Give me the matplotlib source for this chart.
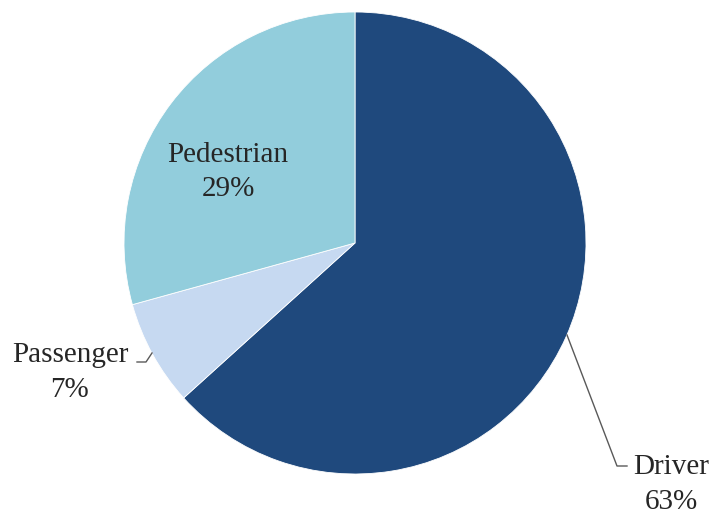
import matplotlib.pyplot as plt

categories = ["Driver", "Passenger", "Pedestrian"]
shares = [63.3, 7.4, 29.3]
colors = ["#1F497D", "#C6D9F1", "#92CDDC"]

W, H = 714, 514

fig = plt.figure(figsize=(W / 100, H / 100), dpi=100)
ax = fig.add_axes([0, 0, 1, 1])

# pie drawn in pixel coordinates (y up)
ax.pie(
    shares,
    colors=colors,
    startangle=90,
    counterclock=False,
    center=(355, H - 243),
    radius=231,
    wedgeprops=dict(edgecolor="white", linewidth=0.6),
)
ax.set_xlim(0, W)
ax.set_ylim(0, H)
ax.set_aspect("equal")
ax.axis("off")

font = dict(family="Liberation Serif", size=21, color="#262626", ha="center", va="baseline")

# label positions (x, baseline of name, baseline of percentage)
label_pos = {
    "Driver": (671, 474, 509),
    "Passenger": (70, 362, 397),
    "Pedestrian": (228, 162, 196),
}
for name, val in zip(categories, shares):
    x, y1, y2 = label_pos[name]
    ax.text(x, H - y1, name, **font)
    ax.text(x, H - y2, f"{val:.0f}%", **font)

# leader lines
line_kw = dict(color="#595959", linewidth=1.0)
ax.plot([567, 617, 627], [H - 335, H - 466, H - 466], **line_kw)
ax.plot([152, 146, 137], [H - 353, H - 362, H - 362], **line_kw)

fig.savefig("out.png", dpi=100)
